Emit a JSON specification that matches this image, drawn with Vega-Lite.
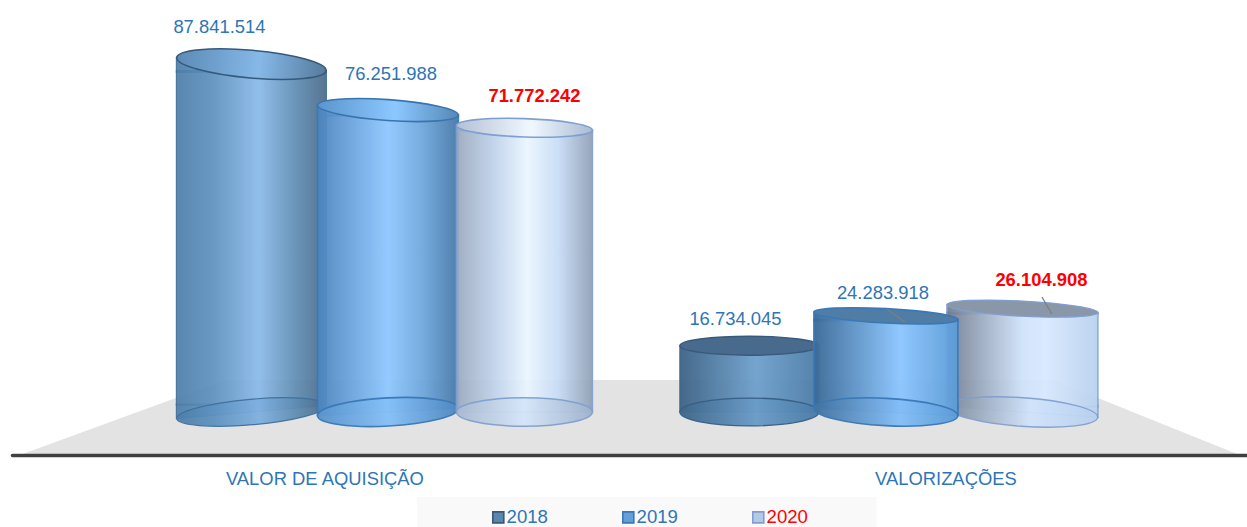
{"$schema":"https://vega.github.io/schema/vega-lite/v6.json","width":1235,"height":455,"autosize":{"type":"none"},"padding":{"left":12,"top":0,"right":0,"bottom":72},"background":"white",
"config":{"view":{"stroke":null},"font":"Liberation Sans","axisQuantitative":{"disable":true},"locale":{"number":{"decimal":",","thousands":".","grouping":[3],"currency":["","€"]}}},
"data":{"values":[
{"category":"VALOR DE AQUISIÇÃO","year":"2018","value":87841514},
{"category":"VALOR DE AQUISIÇÃO","year":"2019","value":76251988},
{"category":"VALOR DE AQUISIÇÃO","year":"2020","value":71772242},
{"category":"VALORIZAÇÕES","year":"2018","value":16734045},
{"category":"VALORIZAÇÕES","year":"2019","value":24283918},
{"category":"VALORIZAÇÕES","year":"2020","value":26104908}]},
"resolve":{"scale":{"x":"independent"},"axis":{"x":"independent"}},
"layer":[
{"data":{"values":[{"pos":0.65,"top":-10860000,"bottom":-10860000},{"pos":17.25,"top":8080000,"bottom":-10860000},{"pos":84.3,"top":8080000,"bottom":-10860000},{"pos":99.4,"top":-10860000,"bottom":-10860000}]},
"mark":{"type":"area","fill":"#e3e3e3"},
"encoding":{"x":{"field":"pos","type":"quantitative","scale":{"domain":[0,100],"nice":false,"zero":false},"title":null},"y":{"field":"top","type":"quantitative","scale":{"domain":[-10860000,104040000],"nice":false,"zero":false},"title":null},"y2":{"field":"bottom"}}},
{"data":{"values":[{"from":32.8,"to":70,"low":-29040000,"high":-21460000}]},
"mark":{"type":"rect","fill":"#f9f9f9","clip":false},
"encoding":{"x":{"field":"from","type":"quantitative","scale":{"domain":[0,100],"nice":false,"zero":false},"title":null},"x2":{"field":"to"},"y":{"field":"low","type":"quantitative","title":null},"y2":{"field":"high"}}},
{"encoding":{
"x":{"field":"category","type":"nominal","sort":null,"title":null,"scale":{"domain":["VALOR DE AQUISIÇÃO","VALORIZAÇÕES"],"paddingInner":0,"paddingOuter":0.24,"align":0.531},"axis":{"labelAngle":0,"ticks":false,"grid":false,"zindex":1,"domainColor":"#404040","domainWidth":3.5,"domainCap":"round","labelColor":"#2e75b6","labelFont":"Liberation Sans","labelFontSize":18.4,"labelPadding":14,"labelLimit":400,"labelOffset":{"expr":"datum.value=='VALOR DE AQUISIÇÃO'?-63:60"}}},
"xOffset":{"field":"year","type":"nominal","scale":{"domain":["2018","2019","2020"],"paddingInner":0,"paddingOuter":0.324}}},
"layer":[
{"transform":[{"filter":"datum.category=='VALOR DE AQUISIÇÃO' && datum.year=='2018'"}],"layer":[
{"mark":{"type":"bar","width":150,"yOffset":6.5,"y2Offset":-6.5,"opacity":0.93,"stroke":"#3f6f9c","strokeWidth":1.2,"fill":{"gradient":"linear","x1":0,"x2":1,"y1":0,"y2":0,"stops":[{"offset":0,"color":"#4d7ea9"},{"offset":0.25,"color":"#5f92c0"},{"offset":0.55,"color":"#8abaea"},{"offset":0.8,"color":"#5f8cb2"},{"offset":1,"color":"#4a6a88"}]}},"encoding":{"y":{"field":"value","type":"quantitative","title":null},"y2":{"datum":0}}},
{"mark":{"type":"point","filled":true,"opacity":0.93,"shape":"M1,0.117L1,0.087L-1,-0.087L-1,0.117","size":22500,"stroke":"#3f6f9c","strokeWidth":1.2,"fill":{"gradient":"linear","x1":0,"x2":1,"y1":0,"y2":0,"stops":[{"offset":0,"color":"#4d7ea9"},{"offset":0.25,"color":"#5f92c0"},{"offset":0.55,"color":"#8abaea"},{"offset":0.8,"color":"#5f8cb2"},{"offset":1,"color":"#4a6a88"}]}},"encoding":{"y":{"field":"value","type":"quantitative","title":null}}},
{"mark":{"type":"point","filled":true,"opacity":0.93,"shape":"M1,-0.117L1,-0.087L-1,0.087L-1,-0.117","size":22500,"stroke":"#3f6f9c","strokeWidth":1.2,"fill":{"gradient":"linear","x1":0,"x2":1,"y1":0,"y2":0,"stops":[{"offset":0,"color":"#4d7ea9"},{"offset":0.25,"color":"#5f92c0"},{"offset":0.55,"color":"#8abaea"},{"offset":0.8,"color":"#5f8cb2"},{"offset":1,"color":"#4a6a88"}]}},"encoding":{"y":{"datum":0,"type":"quantitative","title":null}}},
{"mark":{"type":"point","filled":true,"opacity":0.95,"shape":"M-1,0A1,0.17 0 1 1 1,0A1,0.17 0 1 1 -1,0Z","size":22500,"angle":-5,"stroke":"#3f6f9c","strokeWidth":1.2,"fill":{"gradient":"linear","x1":0,"x2":1,"y1":0,"y2":0,"stops":[{"offset":0,"color":"#4d7ea9"},{"offset":0.25,"color":"#5f92c0"},{"offset":0.55,"color":"#7fb0e0"},{"offset":0.8,"color":"#5f8cb2"},{"offset":1,"color":"#4a6a88"}]}},"encoding":{"y":{"datum":0,"type":"quantitative","title":null}}},
{"mark":{"type":"point","filled":true,"opacity":1,"shape":"M-1,0A1,0.185 0 1 1 1,0A1,0.185 0 1 1 -1,0Z","size":22500,"angle":5,"stroke":"#35597c","strokeWidth":1.6,"fill":{"gradient":"linear","x1":0,"x2":1,"y1":0,"y2":0,"stops":[{"offset":0,"color":"#5b8bb5"},{"offset":0.55,"color":"#86b8e8"},{"offset":1,"color":"#567b9c"}]}},"encoding":{"y":{"field":"value","type":"quantitative","title":null}}}]},
{"transform":[{"filter":"datum.category=='VALOR DE AQUISIÇÃO' && datum.year=='2019'"}],"layer":[
{"mark":{"type":"bar","width":141,"yOffset":4.9,"y2Offset":-3.7,"opacity":0.95,"stroke":"#3a78b8","strokeWidth":1.5,"fill":{"gradient":"linear","x1":0,"x2":1,"y1":0,"y2":0,"stops":[{"offset":0,"color":"#4b84bd"},{"offset":0.5,"color":"#8fc8ff"},{"offset":0.75,"color":"#6ea7dc"},{"offset":1,"color":"#4678a8"}]}},"encoding":{"y":{"field":"value","type":"quantitative","title":null},"y2":{"datum":0}}},
{"mark":{"type":"point","filled":true,"opacity":0.95,"shape":"M1,0.1L1,0.07L-1,-0.07L-1,0.1","size":19881,"stroke":"#3a78b8","strokeWidth":1.5,"fill":{"gradient":"linear","x1":0,"x2":1,"y1":0,"y2":0,"stops":[{"offset":0,"color":"#4b84bd"},{"offset":0.5,"color":"#8fc8ff"},{"offset":0.75,"color":"#6ea7dc"},{"offset":1,"color":"#4678a8"}]}},"encoding":{"y":{"field":"value","type":"quantitative","title":null}}},
{"mark":{"type":"point","filled":true,"opacity":0.95,"shape":"M1,-0.082L1,-0.052L-1,0.052L-1,-0.082","size":19881,"stroke":"#3a78b8","strokeWidth":1.5,"fill":{"gradient":"linear","x1":0,"x2":1,"y1":0,"y2":0,"stops":[{"offset":0,"color":"#4b84bd"},{"offset":0.5,"color":"#8fc8ff"},{"offset":0.75,"color":"#6ea7dc"},{"offset":1,"color":"#4678a8"}]}},"encoding":{"y":{"datum":0,"type":"quantitative","title":null}}},
{"mark":{"type":"point","filled":true,"opacity":0.97,"shape":"M-1,0A1,0.2 0 1 1 1,0A1,0.2 0 1 1 -1,0Z","size":19881,"angle":-3,"stroke":"#3a78b8","strokeWidth":1.6,"fill":{"gradient":"linear","x1":0,"x2":1,"y1":0,"y2":0,"stops":[{"offset":0,"color":"#5a94cc"},{"offset":0.5,"color":"#86c0f8"},{"offset":1,"color":"#4f88c0"}]}},"encoding":{"y":{"datum":0,"type":"quantitative","title":null}}},
{"mark":{"type":"point","filled":true,"opacity":1,"shape":"M-1,0A1,0.148 0 1 1 1,0A1,0.148 0 1 1 -1,0Z","size":19881,"angle":4,"stroke":"#3a74ae","strokeWidth":1.6,"fill":{"gradient":"linear","x1":0,"x2":1,"y1":0,"y2":0,"stops":[{"offset":0,"color":"#5a94cc"},{"offset":0.55,"color":"#8cc8ff"},{"offset":1,"color":"#5688b8"}]}},"encoding":{"y":{"field":"value","type":"quantitative","title":null}}}]},
{"transform":[{"filter":"datum.category=='VALOR DE AQUISIÇÃO' && datum.year=='2020'"}],"layer":[
{"mark":{"type":"bar","width":136,"yOffset":2.4,"opacity":0.93,"stroke":"#7f9fd0","strokeWidth":1.5,"fill":{"gradient":"linear","x1":0,"x2":1,"y1":0,"y2":0,"stops":[{"offset":0,"color":"#9aa9bf"},{"offset":0.3,"color":"#c3d6ee"},{"offset":0.52,"color":"#eaf6ff"},{"offset":0.75,"color":"#c7dcf6"},{"offset":1,"color":"#8f9fb5"}]}},"encoding":{"y":{"field":"value","type":"quantitative","title":null},"y2":{"datum":0}}},
{"mark":{"type":"point","filled":true,"opacity":0.93,"shape":"M1,0.065L1,0.035L-1,-0.035L-1,0.065","size":18496,"stroke":"#7f9fd0","strokeWidth":1.5,"fill":{"gradient":"linear","x1":0,"x2":1,"y1":0,"y2":0,"stops":[{"offset":0,"color":"#9aa9bf"},{"offset":0.3,"color":"#c3d6ee"},{"offset":0.52,"color":"#eaf6ff"},{"offset":0.75,"color":"#c7dcf6"},{"offset":1,"color":"#8f9fb5"}]}},"encoding":{"y":{"field":"value","type":"quantitative","title":null}}},
{"mark":{"type":"point","filled":true,"opacity":0.95,"shape":"M-1,0A1,0.21 0 1 1 1,0A1,0.21 0 1 1 -1,0Z","size":18496,"stroke":"#7f9fd0","strokeWidth":1.5,"fill":{"gradient":"linear","x1":0,"x2":1,"y1":0,"y2":0,"stops":[{"offset":0,"color":"#a9b9d0"},{"offset":0.5,"color":"#d5e6fa"},{"offset":1,"color":"#9fb2cc"}]}},"encoding":{"y":{"datum":0,"type":"quantitative","title":null}}},
{"mark":{"type":"point","filled":true,"opacity":1,"shape":"M-1,0A1,0.135 0 1 1 1,0A1,0.135 0 1 1 -1,0Z","size":18496,"angle":2,"stroke":"#7f9fd0","strokeWidth":1.6,"fill":{"gradient":"linear","x1":0,"x2":1,"y1":0,"y2":0,"stops":[{"offset":0,"color":"#b3c1d6"},{"offset":0.55,"color":"#f0f8ff"},{"offset":1,"color":"#aabbd2"}]}},"encoding":{"y":{"field":"value","type":"quantitative","title":null}}}]},
{"transform":[{"filter":"datum.category=='VALORIZAÇÕES' && datum.year=='2018'"}],"layer":[
{"mark":{"type":"bar","width":139,"opacity":0.95,"stroke":"#375f85","strokeWidth":1.2,"fill":{"gradient":"linear","x1":0,"x2":1,"y1":0,"y2":0,"stops":[{"offset":0,"color":"#3c6285"},{"offset":0.55,"color":"#6ea0cc"},{"offset":1,"color":"#4a7ba6"}]}},"encoding":{"y":{"field":"value","type":"quantitative","title":null},"y2":{"datum":0}}},
{"mark":{"type":"point","filled":true,"opacity":0.97,"shape":"M-1,0A1,0.2 0 1 1 1,0A1,0.2 0 1 1 -1,0Z","size":19321,"stroke":"#375f85","strokeWidth":1.4,"fill":{"gradient":"linear","x1":0,"x2":1,"y1":0,"y2":0,"stops":[{"offset":0,"color":"#3f668a"},{"offset":0.55,"color":"#6a9cc8"},{"offset":1,"color":"#4a7ba6"}]}},"encoding":{"y":{"datum":0,"type":"quantitative","title":null}}},
{"mark":{"type":"point","filled":true,"opacity":1,"shape":"M-1,0A1,0.136 0 1 1 1,0A1,0.136 0 1 1 -1,0Z","size":19321,"stroke":"#38597a","strokeWidth":1.4,"fill":"#476a8d"},"encoding":{"y":{"field":"value","type":"quantitative","title":null}}}]},
{"transform":[{"filter":"datum.category=='VALORIZAÇÕES' && datum.year=='2020'"}],"layer":[
{"mark":{"type":"bar","width":151,"yOffset":3.95,"y2Offset":-5.3,"opacity":0.93,"stroke":"#7f9fd0","strokeWidth":1.4,"fill":{"gradient":"linear","x1":0,"x2":1,"y1":0,"y2":0,"stops":[{"offset":0,"color":"#707c8e"},{"offset":0.5,"color":"#cfe2fb"},{"offset":0.65,"color":"#d8e9ff"},{"offset":1,"color":"#b8d0ee"}]}},"encoding":{"y":{"field":"value","type":"quantitative","title":null},"y2":{"datum":0}}},
{"mark":{"type":"point","filled":true,"opacity":0.93,"shape":"M1,0.082L1,0.052L-1,-0.052L-1,0.082","size":22801,"stroke":"#7f9fd0","strokeWidth":1.4,"fill":{"gradient":"linear","x1":0,"x2":1,"y1":0,"y2":0,"stops":[{"offset":0,"color":"#707c8e"},{"offset":0.5,"color":"#cfe2fb"},{"offset":0.65,"color":"#d8e9ff"},{"offset":1,"color":"#b8d0ee"}]}},"encoding":{"y":{"field":"value","type":"quantitative","title":null}}},
{"mark":{"type":"point","filled":true,"opacity":0.93,"shape":"M-1,-0.1L-1,-0.07L1,0.07L1,-0.1","size":22801,"stroke":"#7f9fd0","strokeWidth":1.4,"fill":{"gradient":"linear","x1":0,"x2":1,"y1":0,"y2":0,"stops":[{"offset":0,"color":"#707c8e"},{"offset":0.5,"color":"#cfe2fb"},{"offset":0.65,"color":"#d8e9ff"},{"offset":1,"color":"#b8d0ee"}]}},"encoding":{"y":{"datum":0,"type":"quantitative","title":null}}},
{"mark":{"type":"point","filled":true,"opacity":0.95,"shape":"M-1,0A1,0.19 0 1 1 1,0A1,0.19 0 1 1 -1,0Z","size":22801,"angle":4,"stroke":"#7f9fd0","strokeWidth":1.4,"fill":{"gradient":"linear","x1":0,"x2":1,"y1":0,"y2":0,"stops":[{"offset":0,"color":"#7d899a"},{"offset":0.55,"color":"#d0e3fb"},{"offset":1,"color":"#b8d0ee"}]}},"encoding":{"y":{"datum":0,"type":"quantitative","title":null}}},
{"mark":{"type":"point","filled":true,"opacity":1,"shape":"M-1,0A1,0.1 0 1 1 1,0A1,0.1 0 1 1 -1,0Z","size":22801,"angle":3,"stroke":"#7f9fd0","strokeWidth":1.4,"fill":"#8a97a9"},"encoding":{"y":{"field":"value","type":"quantitative","title":null}}}]},
{"transform":[{"filter":"datum.category=='VALORIZAÇÕES' && datum.year=='2019'"}],"layer":[
{"mark":{"type":"bar","width":144,"yOffset":3.8,"y2Offset":-3.8,"opacity":0.96,"stroke":"#3a78b8","strokeWidth":1.6,"fill":{"gradient":"linear","x1":0,"x2":1,"y1":0,"y2":0,"stops":[{"offset":0,"color":"#3a6a98"},{"offset":0.6,"color":"#8cc6ff"},{"offset":1,"color":"#5b9bd6"}]}},"encoding":{"y":{"field":"value","type":"quantitative","title":null},"y2":{"datum":0}}},
{"mark":{"type":"point","filled":true,"opacity":0.96,"shape":"M1,0.082L1,0.052L-1,-0.052L-1,0.082","size":20736,"stroke":"#3a78b8","strokeWidth":1.6,"fill":{"gradient":"linear","x1":0,"x2":1,"y1":0,"y2":0,"stops":[{"offset":0,"color":"#3a6a98"},{"offset":0.6,"color":"#8cc6ff"},{"offset":1,"color":"#5b9bd6"}]}},"encoding":{"y":{"field":"value","type":"quantitative","title":null}}},
{"mark":{"type":"point","filled":true,"opacity":0.96,"shape":"M-1,-0.082L-1,-0.052L1,0.052L1,-0.082","size":20736,"stroke":"#3a78b8","strokeWidth":1.6,"fill":{"gradient":"linear","x1":0,"x2":1,"y1":0,"y2":0,"stops":[{"offset":0,"color":"#3a6a98"},{"offset":0.6,"color":"#8cc6ff"},{"offset":1,"color":"#5b9bd6"}]}},"encoding":{"y":{"datum":0,"type":"quantitative","title":null}}},
{"mark":{"type":"point","filled":true,"opacity":0.97,"shape":"M-1,0A1,0.19 0 1 1 1,0A1,0.19 0 1 1 -1,0Z","size":20736,"angle":3,"stroke":"#3a78b8","strokeWidth":1.6,"fill":{"gradient":"linear","x1":0,"x2":1,"y1":0,"y2":0,"stops":[{"offset":0,"color":"#42729f"},{"offset":0.6,"color":"#84bef8"},{"offset":1,"color":"#5b9bd6"}]}},"encoding":{"y":{"datum":0,"type":"quantitative","title":null}}},
{"mark":{"type":"point","filled":true,"opacity":1,"shape":"M-1,0A1,0.1 0 1 1 1,0A1,0.1 0 1 1 -1,0Z","size":20736,"angle":3,"stroke":"#3a78b8","strokeWidth":1.6,"fill":"#4f7da6"},"encoding":{"y":{"field":"value","type":"quantitative","title":null}}}]},
{"mark":{"type":"square","opacity":0},"encoding":{"y":{"datum":0,"type":"quantitative","title":null},
"color":{"field":"year","type":"nominal","scale":{"domain":["2018","2019","2020"],"range":["#5b86ae","#659fd8","#b4c9e6"]},"legend":{"title":null,"orient":"none","legendX":477,"legendY":508,"direction":"horizontal","columns":3,"symbolType":"square","symbolSize":121,"symbolOpacity":1,"symbolStrokeWidth":1.6,"labelFont":"Liberation Sans","labelFontSize":18.6,"labelOffset":-1,"columnPadding":71,"padding":0,"encode":{"labels":{"update":{"fill":{"signal":"datum.label=='2020'?'#ff0000':'#2e75b6'"}}},"symbols":{"update":{"stroke":{"signal":"datum.label=='2018'?'#38597a':datum.label=='2019'?'#3a78b8':'#7f9fd0'"}}}}}}}},
{"mark":{"type":"text","font":"Liberation Sans","fontSize":18.4,"baseline":"middle","align":"center",
"dx":{"expr":"{'2018A':-32,'2019A':3,'2020A':10,'2018V':-14,'2019V':-3,'2020V':19}[datum.year+(datum.category=='VALORIZAÇÕES'?'V':'A')]"},
"dy":{"expr":"{'2018A':-37,'2019A':-36,'2020A':-32,'2018V':-27,'2019V':-23,'2020V':-29}[datum.year+(datum.category=='VALORIZAÇÕES'?'V':'A')]"},
"fontWeight":{"expr":"datum.year=='2020'?'bold':'normal'"}},
"encoding":{"y":{"field":"value","type":"quantitative","title":null},"text":{"field":"value","type":"quantitative","format":",d"},"color":{"condition":{"test":"datum.year=='2020'","value":"#ff0000"},"value":"#2e75b6"}}}
]},
{"data":{"values":[{"pos":70.85,"pos2":72.3,"from":26000000,"to":22700000},{"pos":83.4,"pos2":84.2,"from":29040000,"to":24750000}]},
"mark":{"type":"rule","stroke":"#7f7f7f","strokeWidth":1.3},
"encoding":{"x":{"field":"pos","type":"quantitative","scale":{"domain":[0,100],"nice":false,"zero":false},"title":null},"x2":{"field":"pos2"},"y":{"field":"from","type":"quantitative","title":null},"y2":{"field":"to"}}}
]}
